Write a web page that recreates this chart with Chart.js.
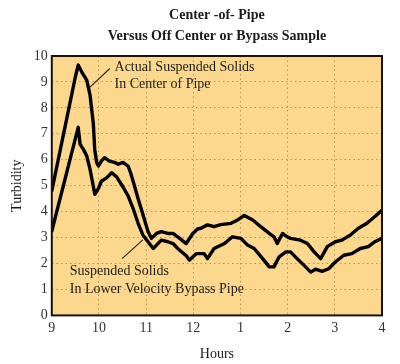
<!DOCTYPE html>
<html>
<head>
<meta charset="utf-8">
<script src="https://cdn.jsdelivr.net/npm/chart.js@4"></script>
<style>
  html, body { margin: 0; padding: 0; background: #fff; }
  #wrap { width: 400px; height: 364px; }
</style>
</head>
<body>
<div id="wrap"><canvas id="chart"></canvas></div>
<script>
// hours after 9 o'clock, tick labels shown as clock hours
const xTickLabels = ["9", "10", "11", "12", "1", "2", "3", "4"];

// Actual suspended solids, center of pipe
const centerHours = [0, 0.5, 0.56, 0.63, 0.74, 0.81, 0.88, 0.91, 0.95, 0.99, 1.05, 1.12, 1.22, 1.33, 1.41, 1.51, 1.62, 1.67, 1.72,
  1.83, 1.93, 2.04, 2.11, 2.22, 2.32, 2.46, 2.57, 2.71, 2.85, 2.99, 3.09, 3.16, 3.3, 3.44, 3.58, 3.8, 3.94, 4.08,
  4.26, 4.43, 4.61, 4.71, 4.78, 4.89, 4.99, 5.06, 5.27, 5.42, 5.56, 5.7, 5.84, 6.01, 6.15, 6.33, 6.5, 6.68, 6.85, 7.0];
const centerValues = [4.8, 9.2, 9.65, 9.4, 9.07, 8.5, 7.4, 6.4, 5.9, 5.76, 5.95, 6.08, 5.95, 5.9, 5.83, 5.9, 5.75, 5.5, 5.2,
  4.5, 3.9, 3.23, 2.97, 3.16, 3.23, 3.16, 3.16, 2.97, 2.77, 3.16, 3.33, 3.36, 3.49, 3.42, 3.5, 3.55, 3.68, 3.85,
  3.68, 3.42, 3.16, 3.03, 2.77, 3.16, 3.03, 2.97, 2.9, 2.77, 2.45, 2.19, 2.65, 2.84, 2.9, 3.1, 3.36, 3.55, 3.81, 4.05];

// Suspended solids, lower velocity bypass pipe
const bypassHours = [0, 0.56, 0.6, 0.67, 0.74, 0.81, 0.88, 0.91, 0.99, 1.05, 1.16, 1.27, 1.37, 1.51, 1.62, 1.72, 1.83,
  1.93, 2.04, 2.15, 2.22, 2.32, 2.46, 2.57, 2.67, 2.85, 2.92, 3.06, 3.23, 3.3, 3.44, 3.66, 3.83, 4.01, 4.15, 4.29,
  4.47, 4.61, 4.71, 4.82, 4.96, 5.06, 5.2, 5.38, 5.49, 5.59, 5.73, 5.87, 6.01, 6.19, 6.36, 6.54, 6.71, 6.85, 7.0];
const bypassValues = [3.25, 7.25, 6.6, 6.4, 6.15, 5.64, 4.98, 4.67, 4.9, 5.17, 5.3, 5.5, 5.35, 4.95, 4.6, 4.14, 3.55,
  3.1, 2.84, 2.58, 2.71, 2.9, 2.84, 2.77, 2.58, 2.3, 2.13, 2.38, 2.38, 2.19, 2.58, 2.77, 3.03, 2.97, 2.71, 2.58,
  2.19, 1.87, 1.87, 2.26, 2.45, 2.45, 2.19, 1.87, 1.67, 1.78, 1.7, 1.8, 2.06, 2.32, 2.38, 2.58, 2.65, 2.84, 2.97];

const serif = "'Liberation Serif', 'DejaVu Serif', serif";

// callouts placed in data units
const callouts = [
  { lines: ["Actual Suspended Solids", "In Center of Pipe"], x: 1.33, y: 9.57, step: 0.66, from: [0.81, 8.8], to: [1.23, 9.52] },
  { lines: ["Suspended Solids", "In Lower Velocity Bypass Pipe"], x: 0.38, y: 1.7, step: 0.68, from: [1.49, 2.19], to: [1.93, 2.91] }
];

const plotDecor = {
  id: "plotDecor",
  beforeDraw(chart) {
    const { ctx, chartArea: a } = chart;
    ctx.save();
    ctx.fillStyle = "#fcd88e";
    ctx.fillRect(a.left, a.top, a.right - a.left, a.bottom - a.top);
    ctx.restore();
  },
  afterDraw(chart) {
    const { ctx, chartArea: a, scales } = chart;
    ctx.save();
    ctx.strokeStyle = "#1a1208";
    ctx.lineWidth = 2;
    ctx.strokeRect(a.left, a.top, a.right - a.left, a.bottom - a.top);

    ctx.fillStyle = "#1c1c1c";
    ctx.font = "14px " + serif;
    ctx.textBaseline = "middle";
    ctx.textAlign = "left";
    callouts.forEach(c => {
      c.lines.forEach((t, i) => {
        ctx.fillText(t, scales.x.getPixelForValue(c.x), scales.y.getPixelForValue(c.y - i * c.step));
      });
      ctx.strokeStyle = "#2a2a2a";
      ctx.lineWidth = 1.2;
      ctx.beginPath();
      ctx.moveTo(scales.x.getPixelForValue(c.from[0]), scales.y.getPixelForValue(c.from[1]));
      ctx.lineTo(scales.x.getPixelForValue(c.to[0]), scales.y.getPixelForValue(c.to[1]));
      ctx.stroke();
    });
    ctx.restore();
  }
};

const toPoints = (xs, ys) => xs.map((x, i) => ({ x, y: ys[i] }));

new Chart(document.getElementById("chart"), {
  type: "line",
  data: {
    datasets: [
      { label: "Center of Pipe", data: toPoints(centerHours, centerValues) },
      { label: "Bypass Pipe", data: toPoints(bypassHours, bypassValues) }
    ]
  },
  options: {
    responsive: true,
    maintainAspectRatio: false,
    animation: false,
    layout: { padding: { left: 9, right: 18, top: 3, bottom: 1 } },
    elements: {
      line: { borderColor: "#000", borderWidth: 3.4, tension: 0, borderJoinStyle: "round", borderCapStyle: "round" },
      point: { radius: 0 }
    },
    plugins: {
      legend: { display: false },
      tooltip: { enabled: false },
      title: {
        display: true,
        fullSize: false,
        text: ["Center -of- Pipe", "Versus Off Center or Bypass Sample"],
        color: "#1a1a1a",
        font: { family: serif, size: 14, weight: "bold", lineHeight: 1.5 },
        padding: { top: 2, bottom: 9 }
      }
    },
    scales: {
      x: {
        type: "linear",
        min: 0,
        max: 7,
        ticks: {
          stepSize: 1,
          color: "#333",
          font: { family: serif, size: 14 },
          padding: 5,
          callback: v => xTickLabels[v]
        },
        grid: { color: "#b8964e", lineWidth: 1, drawTicks: false },
        border: { display: false, dash: [1.5, 3] },
        title: { display: true, text: "Hours", color: "#1a1a1a", font: { family: serif, size: 14 }, padding: { top: 4, bottom: 0 } }
      },
      y: {
        min: 0,
        max: 10,
        ticks: { stepSize: 1, color: "#333", font: { family: serif, size: 14 }, padding: 4 },
        grid: { color: "#b8964e", lineWidth: 1, drawTicks: false },
        border: { display: false, dash: [1.5, 3] },
        title: { display: true, text: "Turbidity", color: "#1a1a1a", font: { family: serif, size: 14 }, padding: { top: 0, bottom: 4 } }
      }
    }
  },
  plugins: [plotDecor]
});
</script>
</body>
</html>
